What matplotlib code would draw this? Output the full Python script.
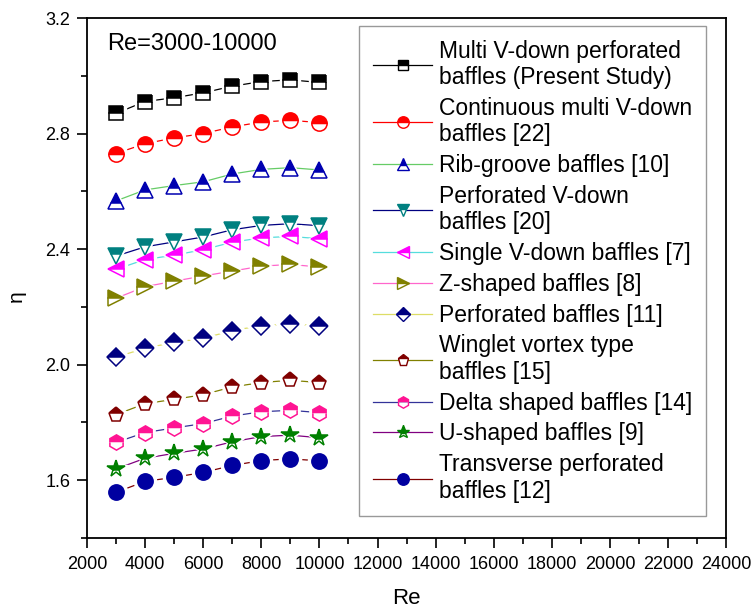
import matplotlib
matplotlib.use("Agg")
import matplotlib.pyplot as plt
from matplotlib.lines import Line2D
from matplotlib.ticker import MultipleLocator

plt.rcParams['font.family'] = ['Liberation Sans', 'DejaVu Sans']

re = [3000, 4000, 5000, 6000, 7000, 8000, 9000, 10000]

multi_v_perf = [2.870, 2.911, 2.924, 2.941, 2.964, 2.980, 2.986, 2.977]
cont_multi_v = [2.731, 2.765, 2.785, 2.800, 2.823, 2.840, 2.846, 2.838]
rib_groove = [2.567, 2.605, 2.620, 2.633, 2.660, 2.676, 2.682, 2.674]
perf_v_down = [2.376, 2.408, 2.425, 2.442, 2.467, 2.482, 2.488, 2.481]
single_v = [2.330, 2.364, 2.379, 2.398, 2.424, 2.439, 2.444, 2.436]
z_shaped = [2.230, 2.270, 2.289, 2.307, 2.324, 2.341, 2.347, 2.338]
perforated = [2.026, 2.057, 2.077, 2.091, 2.118, 2.135, 2.140, 2.135]
winglet = [1.827, 1.865, 1.880, 1.896, 1.923, 1.938, 1.946, 1.938]
delta = [1.731, 1.765, 1.781, 1.796, 1.822, 1.837, 1.842, 1.834]
u_shaped = [1.639, 1.676, 1.693, 1.708, 1.733, 1.751, 1.756, 1.747]
transverse = [1.558, 1.596, 1.610, 1.627, 1.651, 1.668, 1.674, 1.667]

labels = [
    "Multi V-down perforated\nbaffles (Present Study)",
    "Continuous multi V-down\nbaffles [22]",
    "Rib-groove baffles [10]",
    "Perforated V-down\nbaffles [20]",
    "Single V-down baffles [7]",
    "Z-shaped baffles [8]",
    "Perforated baffles [11]",
    "Winglet vortex type\nbaffles [15]",
    "Delta shaped baffles [14]",
    "U-shaped baffles [9]",
    "Transverse perforated\nbaffles [12]",
]
series = [multi_v_perf, cont_multi_v, rib_groove, perf_v_down, single_v,
          z_shaped, perforated, winglet, delta, u_shaped, transverse]

# marker, marker colour, line colour, fill, size
styles = [
    ('s', '#000000', '#000000', 'top', 10),
    ('o', '#ff0000', '#ff0000', 'top', 11),
    ('^', '#0000b0', '#66cc66', 'top', 11),
    ('v', '#008080', '#000080', 'top', 11),
    ('<', '#ff00ff', '#55dddd', 'top', 11),
    ('>', '#808000', '#ff66cc', 'top', 11),
    ('D', '#000080', '#dddd66', 'top', 9),
    ('p', '#800000', '#808000', 'top', 11),
    ('h', '#ff1493', '#333399', 'top', 11),
    ('*', '#008000', '#800080', 'top', 13),
    ('o', '#0000a0', '#800000', 'full', 11),
]

fig = plt.figure(figsize=(7.54, 6.11), dpi=100)
ax = fig.add_axes([0.1154, 0.1195, 0.8476, 0.851])

handles = []
for y, lab, (m, mc, lc, fs, ms) in zip(series, labels, styles):
    ax.plot(re, y, color=lc, lw=0.9, zorder=2)
    # white halo so the line stops short of each symbol
    ax.plot(re, y, ls='none', marker=m, markersize=ms + 5, color='white',
            markeredgecolor='white', zorder=3)
    ax.plot(re, y, ls='none', marker=m, markersize=ms,
            markerfacecolor=mc, markeredgecolor=mc, markerfacecoloralt='white',
            fillstyle=fs, markeredgewidth=1.1, zorder=4)
    handles.append(Line2D([], [], color=lc, lw=0.9, marker=m, markersize=ms * 0.75,
                          markerfacecolor=mc, markeredgecolor=mc,
                          markerfacecoloralt='white', fillstyle=fs,
                          markeredgewidth=1.0))

ax.set_xlim(2000, 24000)
ax.set_ylim(1.4, 3.2)
ax.xaxis.set_major_locator(MultipleLocator(2000))
ax.xaxis.set_minor_locator(MultipleLocator(1000))
ax.yaxis.set_major_locator(MultipleLocator(0.4))
ax.yaxis.set_minor_locator(MultipleLocator(0.2))
ax.yaxis.set_major_formatter(plt.FuncFormatter(lambda v, p: f"{v:.1f}"))
ax.tick_params(which='major', direction='out', length=7, width=1.2, labelsize=13)
ax.tick_params(axis='x', which='major', pad=6)
ax.tick_params(axis='y', which='major', pad=5)
ax.tick_params(which='minor', direction='out', length=4, width=1.2)
ax.tick_params(top=False, right=False, which='both')
for s in ax.spines.values():
    s.set_linewidth(1.3)

ax.set_xlabel("Re", fontsize=16, va='center')
ax.xaxis.set_label_coords(0.499, -0.117)
ax.set_ylabel("η", fontsize=15, va='center')
ax.yaxis.set_label_coords(-0.11, 0.465)
ax.text(0.031, 0.972, "Re=3000-10000", transform=ax.transAxes, fontsize=17,
        va='top', ha='left')

leg = ax.legend(handles, labels, loc='upper left', bbox_to_anchor=(0.4257, 0.985),
                fontsize=16.5, frameon=True, fancybox=False, edgecolor='#808080',
                handlelength=2.6, handletextpad=0.3, labelspacing=0.34,
                borderpad=0.6, borderaxespad=0)
leg.get_frame().set_linewidth(1.0)
for t in leg.get_texts():
    t.set_linespacing(1.19)

fig.savefig("out.png", dpi=100)
